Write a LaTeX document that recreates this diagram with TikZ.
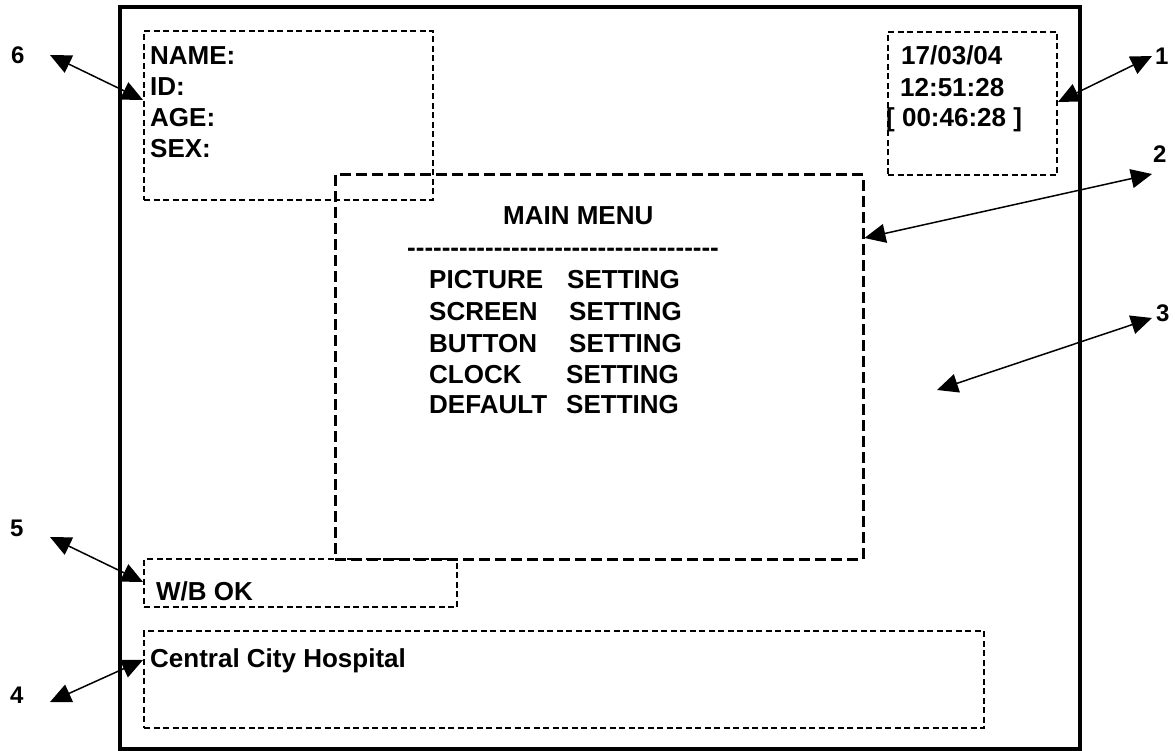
\documentclass[tikz,border=0pt]{standalone}
\usepackage{fontspec}
\setmainfont{Liberation Sans}
\newfontfamily\hyfont{Liberation Sans}[Ligatures=TeXOff]
\usetikzlibrary{arrows.meta}
\tikzset{
  txt/.style={anchor=base west,inner sep=0pt,font=\fontsize{26}{30}\selectfont\bfseries},
  lbl/.style={anchor=base west,inner sep=0pt,font=\fontsize{24}{28}\selectfont\bfseries},
  dbox/.style={draw,line width=2pt,dash pattern=on 6pt off 3.5pt,inner sep=0pt},
  mbox/.style={draw,line width=3pt,dash pattern=on 11pt off 5pt,inner sep=0pt},
  frm/.style={draw,line width=4pt,inner sep=0pt},
  dbl/.style={line width=1.5pt,{Triangle[length=21pt,width=19pt]}-{Triangle[length=21pt,width=19pt]}}
}
\begin{document}
\begin{tikzpicture}[x=1pt,y=-1pt]
\useasboundingbox (0,0) rectangle (1175,751);
% outer frame
\node[frm,minimum width=960pt,minimum height=742pt] (frame) at (600,378) {};
% boxes
\node[dbox,minimum width=289pt,minimum height=169pt] (pat) at (288.5,115.5) {};
\node[dbox,minimum width=169pt,minimum height=143pt] (date) at (972.5,103.5) {};
\node[mbox,minimum width=528pt,minimum height=384pt] (menu) at (599,367) {};
\node[dbox,minimum width=313pt,minimum height=48pt] (wb) at (300.5,583) {};
\node[dbox,minimum width=840pt,minimum height=97pt] (hosp) at (564,679.5) {};
% patient text
\node[txt] (tname) at (150,65) {NAME:};
\node[txt] (tid) at (150,96) {ID:};
\node[txt] (tage) at (150,127) {AGE:};
\node[txt] (tsex) at (150,158) {SEX:};
% date text
\node[txt] (tdate) at (901,65) {17/03/04};
\node[txt] (ttime) at (900,97) {12:51:28};
\node[txt] (tel) at (886,127) {[ 00:46:28 ]};
% menu text
\node[txt] (tmenu) at (503,225) {MAIN MENU};
\node[txt,font=\fontsize{26}{30}\selectfont\bfseries\hyfont] (tdash) at (407,257) {------------------------------------};
\node[txt] (m1a) at (429,288) {PICTURE};
\node[txt] (m1b) at (567,288) {SETTING};
\node[txt] (m2a) at (429,320) {SCREEN};
\node[txt] (m2b) at (569,320) {SETTING};
\node[txt] (m3a) at (429,352) {BUTTON};
\node[txt] (m3b) at (569,352) {SETTING};
\node[txt] (m4a) at (429,383) {CLOCK};
\node[txt] (m4b) at (566,383) {SETTING};
\node[txt] (m5a) at (429,413) {DEFAULT};
\node[txt] (m5b) at (566,413) {SETTING};
% bottom texts
\node[txt] (twb) at (156,600) {W/B OK};
\node[txt] (thosp) at (150,667) {Central City Hospital};
% labels
\node[lbl] (l6) at (11,64) {6};
\node[lbl] (l5) at (10,536) {5};
\node[lbl] (l4) at (10,703) {4};
\node[lbl] (l1) at (1155,65) {1};
\node[lbl] (l2) at (1153,163) {2};
\node[lbl] (l3) at (1156,321) {3};
% free arrow ends
\coordinate (e6) at (50,55);
\coordinate (e5) at (50,537);
\coordinate (e4) at (50,702);
\coordinate (e1) at (1152,56);
\coordinate (e2) at (1152,174);
\coordinate (e3) at (1152,318);
\coordinate (e3in) at (937,390);
% arrows
\draw[dbl] (e6) -- ([yshift=15.5pt]pat.west);
\draw[dbl] (e5) -- ([yshift=1pt]wb.west);
\draw[dbl] (e4) -- ([yshift=19.5pt]hosp.west);
\draw[dbl] (e1) -- ([yshift=1.5pt]date.east);
\draw[dbl] (e2) -- ([yshift=129pt]menu.east);
\draw[dbl] (e3) -- (e3in);
\end{tikzpicture}
\end{document}
